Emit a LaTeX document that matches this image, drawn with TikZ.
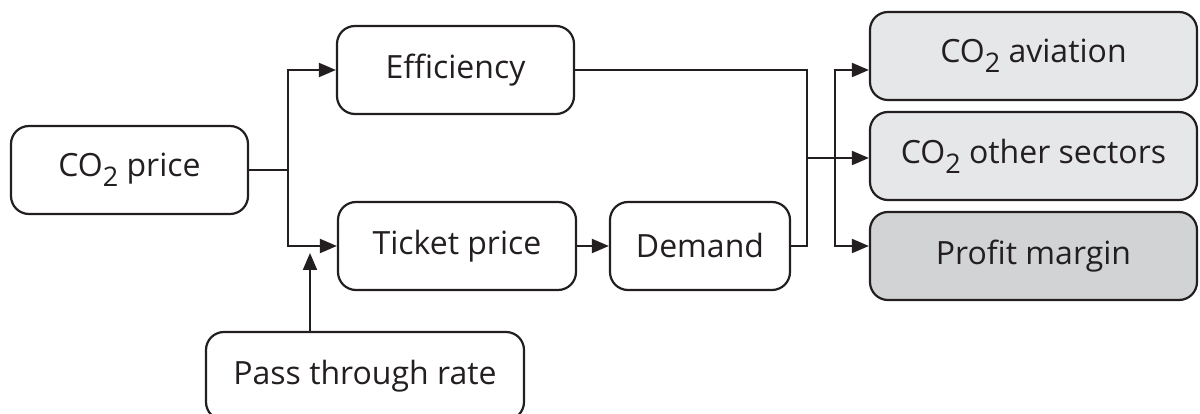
\documentclass[tikz,border=0pt]{standalone}
\usepackage{fontspec}
\setmainfont{Open Sans}
\usetikzlibrary{arrows.meta,calc}
\definecolor{ink}{HTML}{231F20}
\definecolor{shade}{HTML}{E6E7E8}
\definecolor{shadedark}{HTML}{D1D3D4}
\newcommand{\lowsub}[1]{\raisebox{-10pt}{\fontsize{27}{27}\selectfont#1}}
\tikzset{>={Triangle[length=17pt,width=14pt]},line width=2pt,
  every node/.style={font=\fontsize{32}{38}\selectfont,text=ink},
  link/.style={draw=ink,line width=2pt},
  box/.style={draw=ink,line width=2.2pt,rounded corners=18pt,minimum height=88pt,inner sep=0pt}}

\begin{document}
\begin{tikzpicture}[x=1pt,y=-1pt]
\useasboundingbox (0,0) rectangle (1200,414);
\node[box,minimum width=237pt] (price) at (129.5,170) {CO\lowsub{2} price};
\node[box,minimum width=237pt] (eff) at (455.5,70) {Efficiency};
\node[box,minimum width=238pt] (ticket) at (457,246) {Ticket price};
\node[box,minimum width=180pt] (demand) at (700,246) {Demand};
\node[box,minimum width=318pt] (pass) at (365,376) {Pass through rate};
\node[box,fill=shade,minimum width=327pt] (aviation) at (1033.5,56) {CO\lowsub{2} aviation};
\node[box,fill=shade,minimum width=327pt] (other) at (1033.5,156) {CO\lowsub{2} other sectors};
\node[box,fill=shadedark,minimum width=327pt] (profit) at (1033.5,256) {Profit margin};
% left fork
\coordinate (fork) at (288,170);\coordinate (inlet) at (310,253);
\draw[link] (price)--(fork);
\draw[link,->] (fork)|-(eff);\draw[link,->] (fork)|-(ticket);
\draw[link,->] (pass.north -| inlet)--(inlet);
\draw[link,->] (ticket)--(demand);
% merge and split
\coordinate (merge) at (807,158);\coordinate (split) at (835,158);
\draw[link] (eff.east)-|(merge);\draw[link] (demand.east)-|(merge);
\draw[link,->] (merge)--(merge -| other.west);
\draw[link,->] (split)|-(aviation.west |- eff.east);
\draw[link,->] (split)|-(profit.west |- demand.east);
\end{tikzpicture}
\end{document}
